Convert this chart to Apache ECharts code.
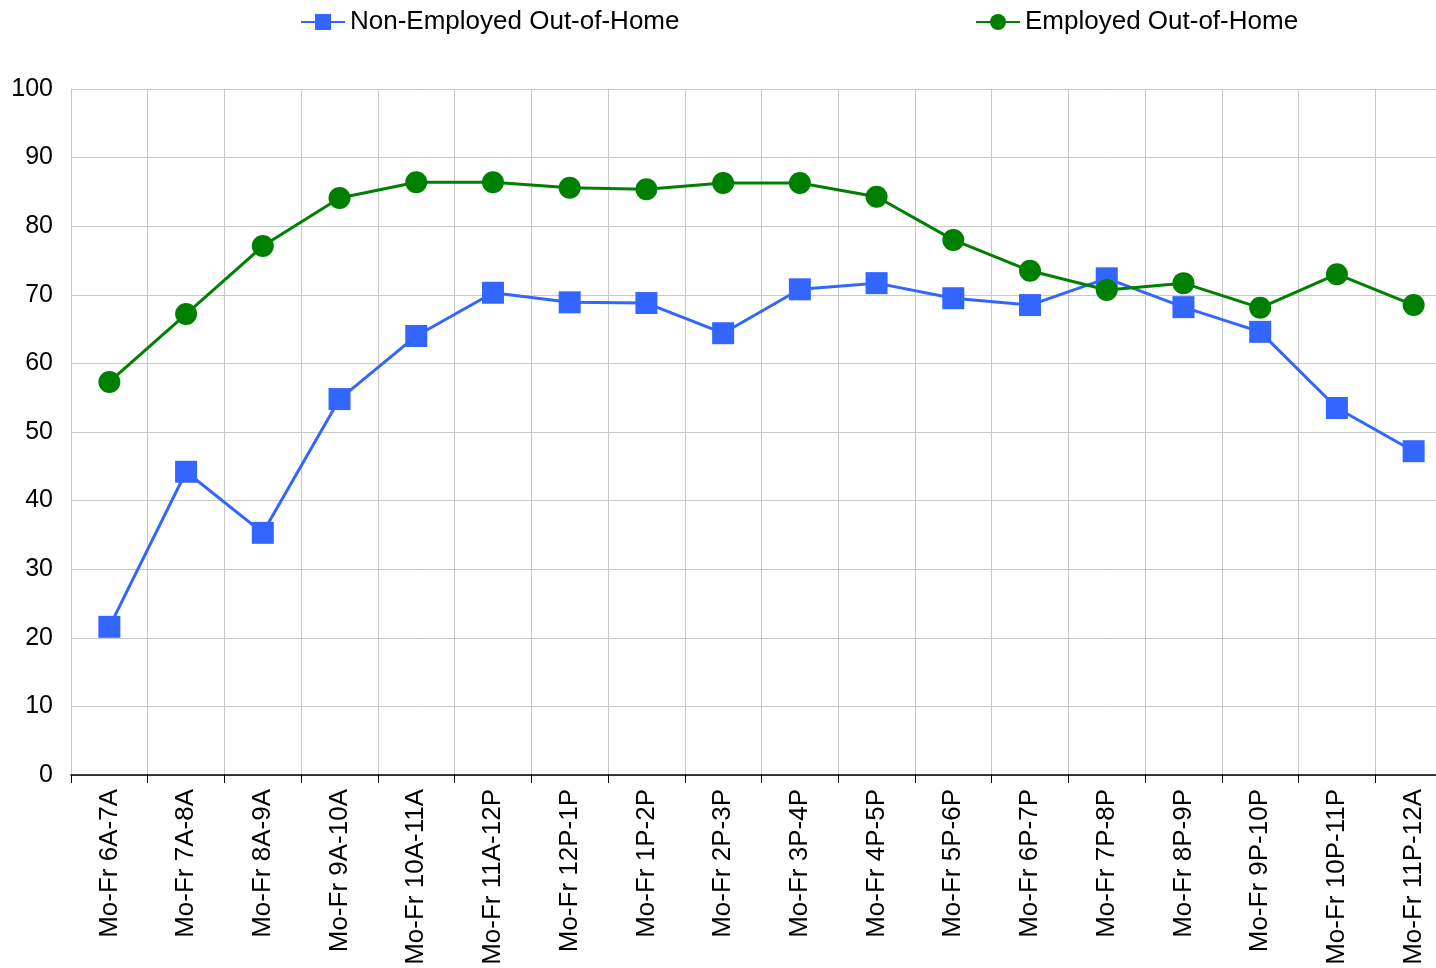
<!DOCTYPE html>
<html>
<head>
<meta charset="utf-8">
<script src="https://cdn.jsdelivr.net/npm/echarts@6/dist/echarts.min.js"></script>
<style>
  html, body { margin: 0; padding: 0; background: #fff; overflow: hidden; }
  #chart { width: 1452px; height: 968px; }
</style>
</head>
<body>
<div id="chart"></div>
<script>
var categories = ['Mo-Fr 6A-7A', 'Mo-Fr 7A-8A', 'Mo-Fr 8A-9A', 'Mo-Fr 9A-10A', 'Mo-Fr 10A-11A',
  'Mo-Fr 11A-12P', 'Mo-Fr 12P-1P', 'Mo-Fr 1P-2P', 'Mo-Fr 2P-3P', 'Mo-Fr 3P-4P', 'Mo-Fr 4P-5P',
  'Mo-Fr 5P-6P', 'Mo-Fr 6P-7P', 'Mo-Fr 7P-8P', 'Mo-Fr 8P-9P', 'Mo-Fr 9P-10P', 'Mo-Fr 10P-11P',
  'Mo-Fr 11P-12A'];
var nonEmployed = [21.6, 44.2, 35.3, 54.8, 64.0, 70.3, 68.9, 68.8, 64.4, 70.8, 71.7, 69.5, 68.5, 72.4, 68.2, 64.6, 53.5, 47.2];
var employed = [57.3, 67.2, 77.1, 84.1, 86.4, 86.4, 85.6, 85.4, 86.3, 86.3, 84.3, 78.0, 73.5, 70.7, 71.7, 68.1, 73.0, 68.5];

var chart = echarts.init(document.getElementById('chart'));
var font = 'Liberation Sans, Arial, sans-serif';

chart.setOption({
  animation: false,
  textStyle: { fontFamily: font },
  legend: [
    {
      data: ['Non-Employed Out-of-Home'],
      left: 300, top: 9, padding: 0,
      itemWidth: 44, itemHeight: 20,
      textStyle: { fontSize: 26, color: '#000', fontFamily: font }
    },
    {
      data: ['Employed Out-of-Home'],
      left: 975, top: 9, padding: 0,
      itemWidth: 44, itemHeight: 20,
      textStyle: { fontSize: 26, color: '#000', fontFamily: font }
    }
  ],
  grid: { left: 71, right: 0, top: 89, bottom: 193, containLabel: false },
  xAxis: {
    type: 'category',
    data: categories,
    boundaryGap: true,
    axisLine: { lineStyle: { color: '#000', width: 1.5 } },
    axisTick: { show: true, length: 8, lineStyle: { color: '#000' } },
    axisLabel: { rotate: 90, fontSize: 26, color: '#000', margin: 14, interval: 0 },
    splitLine: { show: true, lineStyle: { color: '#c8c8c8', width: 1 } }
  },
  yAxis: {
    type: 'value',
    min: 0, max: 100, interval: 10,
    axisLine: { show: true, lineStyle: { color: '#c8c8c8' } },
    axisTick: { show: false },
    axisLabel: { fontSize: 25, color: '#000', margin: 18 },
    splitLine: { lineStyle: { color: '#c8c8c8', width: 1 } }
  },
  series: [
    {
      name: 'Non-Employed Out-of-Home',
      type: 'line',
      data: nonEmployed,
      symbol: 'rect',
      symbolSize: 22,
      itemStyle: { color: '#3366ff' },
      lineStyle: { color: '#3366ff', width: 3 }
    },
    {
      name: 'Employed Out-of-Home',
      type: 'line',
      data: employed,
      symbol: 'circle',
      symbolSize: 22,
      itemStyle: { color: '#008000' },
      lineStyle: { color: '#008000', width: 3 }
    }
  ]
});
</script>
</body>
</html>
